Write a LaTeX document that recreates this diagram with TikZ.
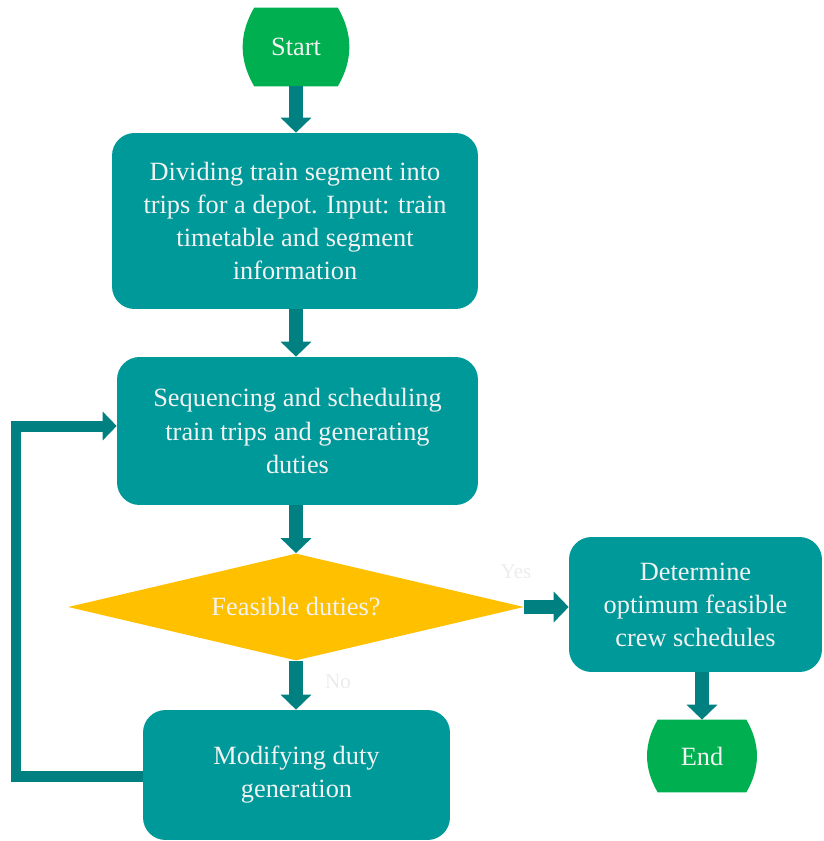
\documentclass[tikz,border=0pt]{standalone}
\usepackage{fontspec}
\setmainfont{Liberation Serif}
\usetikzlibrary{arrows.meta,shapes.geometric,backgrounds}
\definecolor{tealbox}{RGB}{0,153,153}
\definecolor{tealarrow}{RGB}{0,128,128}
\definecolor{termgreen}{RGB}{0,176,80}
\definecolor{amber}{RGB}{255,192,0}
\definecolor{paletext}{RGB}{242,242,242}
\definecolor{faintlabel}{RGB}{236,236,236}
\tikzset{%
    process/.style={%
        rectangle, rounded corners=0.45cm, fill=tealbox, text=paletext,
        align=center, inner sep=0pt, font=\fontsize{15}{18.8}\selectfont
    },
    terminal/.style={%
        rectangle, text=paletext, inner sep=0pt, font=\fontsize{15}{18.8}\selectfont
    },
    decision/.style={%
        diamond, shape aspect=4.26, fill=amber, text=paletext, inner sep=0pt,
        font=\fontsize{15}{18.8}\selectfont
    },
    flow/.style={line width=0.28cm, color=tealarrow,
        -{Triangle[width=0.6cm,length=0.3cm]}},
    loopback/.style={line width=0.22cm, color=tealarrow, line join=miter,
        -{Triangle[width=0.56cm,length=0.28cm]}},
    answer/.style={text=faintlabel, font=\fontsize{12}{14}\selectfont}
}

\begin{document}
\begin{tikzpicture}[x=0.02cm,y=-0.02cm]
    \useasboundingbox (0,0) rectangle (824,841);
    \node[terminal, minimum width=1.66cm, minimum height=1.56cm] (start) at (296,47) {Start};
    \node[process, minimum width=7.32cm, minimum height=3.52cm] (divide) at (295,221)
        {Dividing train segment into\\trips for a depot. Input: train\\timetable and segment\\information};
    \node[process, minimum width=7.22cm, minimum height=2.96cm] (sequence) at (297.5,431)
        {Sequencing and scheduling\\train trips and generating\\duties};
    \node[decision, minimum width=9.12cm, minimum height=2.14cm] (feasible) at (296,607) {Feasible duties?};
    \node[process, minimum width=5.06cm, minimum height=2.7cm] (optimum) at (695.5,604.5)
        {Determine\\optimum feasible\\crew schedules};
    \node[terminal, minimum width=1.76cm, minimum height=1.44cm] (end) at (702,756) {End};
    \node[process, minimum width=6.14cm, minimum height=2.6cm] (modify) at (296.5,775)
        {Modifying duty\\generation};
    \node[answer] (yes) at (516,572) {Yes};
    \node[answer] (no) at (338,682) {No};

    \begin{scope}[on background layer]
        \foreach \t in {start,end}
            \fill[termgreen] (\t.north west) -- (\t.north east) to[bend left=30] (\t.south east)
                -- (\t.south west) to[bend left=30] (\t.north west) -- cycle;
    \end{scope}

    \draw[flow] (start.south) -- (start.south |- divide.north);
    \draw[flow] (divide.south -| start) -- (sequence.north -| start);
    \draw[flow] (sequence.south -| feasible) -- (feasible.north);
    \draw[flow] (feasible.east) -- (feasible.east -| optimum.west);
    \draw[flow] (optimum.south -| end) -- (end.north);
    \draw[flow] (feasible.south) -- (modify.north -| feasible);
    \coordinate (loopbot) at (16,776);
    \coordinate (looptop) at (16,426);
    \draw[loopback] (modify.west |- loopbot) -- (loopbot) -- (looptop) -- (looptop -| sequence.west);
\end{tikzpicture}
\end{document}
